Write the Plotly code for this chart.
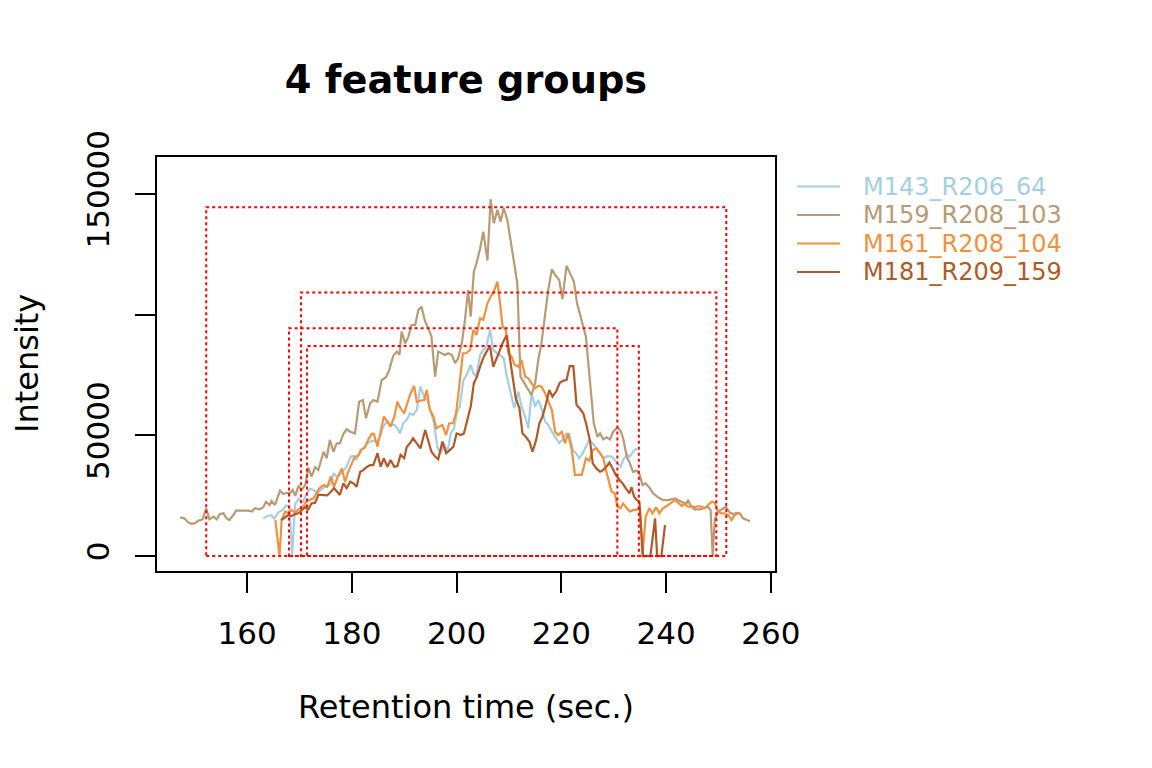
import plotly.graph_objects as go

# ---------------- data ----------------
t_m143 = [163.1,163.8,164.6,165.2,166.0,166.7,167.5,168.1,168.6,169.2,169.9,170.7,171.3,172.0,172.7,173.4,174.1,174.7,175.3,176.0,
          176.5,177.1,177.7,178.4,179.0,179.8,180.3,180.9,181.6,182.2,182.8,183.5,184.1,184.8,185.4,186.0,186.7,187.3,188.1,188.7,
          189.2,189.8,190.5,191.1,191.7,192.4,193.1,193.8,194.4,195.1,195.7,196.3,197.0,197.6,198.2,198.9,199.5,200.1,200.6,201.3,
          201.9,202.7,203.2,203.7,204.5,205.1,205.7,206.4,207.0,207.7,208.3,209.0,209.6,210.2,211.0,211.8,212.4,213.1,213.7,214.3,
          215.0,215.6,216.2,216.9,217.5,218.2,218.8,219.6,220.2,220.9,221.5,222.2,222.8,223.4,224.1,224.7,225.3,226.0,226.7,227.4,
          228.1,228.8,229.6,230.2,230.7,231.3,231.8,232.5,233.1,233.7,234.4]
i_m143 = [15500,16500,16900,15500,18200,18900,21000,20300,0,21700,23700,22400,25800,27900,27400,26000,27400,28500,28700,30100,
          34300,32900,33600,35600,37000,41200,41400,39800,43900,44600,46400,47400,47800,47400,49400,53600,55700,54300,54300,52900,
          50800,55000,56400,59100,58400,60500,70200,66000,64600,59800,55000,45300,42600,46700,42600,50800,52900,59800,61900,72900,
          75000,79200,75700,74300,83300,85400,86700,93700,85400,84000,83300,81900,74300,68800,61200,68100,61900,57700,52900,67400,
          61900,64600,61200,55700,54300,51500,49400,46700,48100,50800,50600,43900,42600,40500,42600,45300,48100,46700,44600,42600,
          40500,41400,41200,39800,38400,37000,39800,41900,41200,43200,44600]

t_m159 = [147.2,148.0,148.6,149.3,149.9,150.7,151.5,152.2,152.8,153.6,154.2,154.8,155.5,156.1,156.6,157.4,157.9,159.0,160.3,160.9,
          161.5,162.4,163.1,163.6,164.3,164.7,165.3,166.3,166.9,167.6,168.2,168.7,169.2,169.8,170.4,171.1,171.7,172.3,173.0,173.6,
          174.6,175.2,175.8,176.5,177.1,177.7,178.4,179.0,179.7,180.6,181.4,182.1,182.7,183.5,184.1,184.9,185.7,186.5,187.1,187.9,
          188.6,189.1,189.5,190.2,190.8,191.4,192.1,192.7,193.3,194.0,194.6,195.2,195.9,196.5,197.2,197.8,198.4,199.1,199.7,200.3,
          201.0,201.6,202.2,202.7,203.3,203.9,204.5,205.1,205.9,206.5,207.1,207.8,208.4,209.0,209.7,210.8,211.6,212.2,212.9,213.7,
          214.3,215.0,215.6,216.2,216.9,217.5,218.2,218.8,219.6,220.2,221.0,221.6,222.4,223.0,223.9,224.7,225.1,225.8,226.2,226.9,
          227.4,228.0,228.6,229.3,229.9,230.7,231.3,231.8,232.5,233.1,233.7,234.4,235.0,235.5,236.1,236.9,237.5,238.5,239.4,240.4,
          241.0,241.7,242.3,243.3,243.9,244.2,244.7,245.5,246.5,247.1,248.0,248.5,248.9,249.3,249.9,250.6,251.4,252.2,252.8,253.5,
          254.1,254.7,255.4,256.0]
i_m159 = [16000,15600,14200,13300,13500,14600,15200,19800,15200,16300,15200,17400,17700,15600,14900,17000,18800,18800,18800,18400,
          19800,19300,20200,22500,21100,22800,21100,27100,25700,26200,26000,27400,24900,29100,27400,29400,36600,32900,36800,35600,
          43200,40500,48100,43200,46700,46700,50600,52500,51500,50800,63900,64600,57100,63300,64600,63900,72900,74000,76800,82900,
          84700,83300,93000,88100,90900,95700,95700,101900,103300,97100,94400,90900,74300,84700,84000,83300,84000,83300,79900,81900,
          88100,97800,110200,99200,117800,122000,127500,134400,122400,147800,137900,143400,138500,144100,139200,123000,113000,74300,71600,68800,
          66700,71600,81200,88100,99200,110200,118800,116500,114400,106400,120200,117200,113700,104700,97800,90900,81200,63300,55000,49400,
          50800,48300,49200,48300,51500,53300,51900,48800,41200,38400,34900,35400,33600,29400,30100,28100,26000,24300,23200,23200,
          23500,23900,23200,22100,21800,23200,20700,19300,19300,19800,20400,19100,0,14900,18400,19300,20400,17900,17400,17900,
          17700,15600,14900,14400]

t_m161 = [165.4,166.2,166.6,167.3,167.9,168.5,169.2,169.8,170.6,171.3,171.9,172.7,173.6,174.1,174.7,175.3,176.0,176.6,177.2,178.1,
          178.7,179.3,180.0,180.6,181.2,181.9,182.5,183.1,183.8,184.2,184.9,185.5,186.1,186.8,187.4,188.1,188.7,189.3,190.0,190.6,
          191.1,191.9,192.4,193.1,193.8,194.3,194.9,195.6,196.1,196.7,197.3,198.0,198.6,199.3,199.9,200.5,201.2,201.8,202.6,203.2,
          203.8,204.5,205.1,205.9,206.5,207.1,207.8,208.3,208.8,209.4,209.9,210.5,211.1,211.8,212.4,213.1,213.7,214.3,215.0,215.6,
          216.2,216.9,217.5,218.2,218.8,219.4,220.1,220.7,221.3,222.0,222.6,223.2,223.9,224.7,225.3,226.0,226.7,227.4,228.0,228.6,
          229.6,230.2,230.7,231.3,231.8,232.5,233.1,233.7,234.4,235.0,235.5,236.1,236.8,237.4,238.1,238.7,239.4,240.1,240.9,241.7,
          242.3,243.0,243.6,244.2,244.9,245.5,246.1,246.8,247.4,248.0,248.7,249.3,249.9,250.6,251.2,251.9,252.5,253.1,253.8]
i_m161 = [14900,0,14900,18400,17700,19100,17900,19300,20200,22500,23200,23900,27400,28700,29400,28700,32900,28700,32200,36300,
          30800,34900,38400,41200,41400,44200,45000,48100,50600,50600,45300,52200,57700,55700,53600,57700,63900,61200,59100,63300,
          66700,70500,63800,64400,64600,68800,60500,57700,52900,53600,54300,50100,55000,55000,59100,70200,84000,84000,85400,93700,
          91600,98500,97800,104700,107500,109500,113700,104700,95000,93700,84000,82600,79200,78400,81200,74300,73600,71600,69500,70500,
          70200,67400,63900,60500,51500,50100,51500,46700,50800,43900,33600,33600,33600,40500,39500,43900,44600,42600,40500,35000,
          26600,26000,20400,19800,21800,19800,18400,19100,19100,20400,0,16300,19800,17700,20200,17700,19800,20700,21800,23200,
          22100,20700,21500,20400,20700,20200,20700,20400,19800,21100,22500,22100,18400,17700,17700,17000,14900,17000,17700]

t_m181 = [166.5,167.3,167.9,168.5,169.2,169.8,170.4,171.1,171.7,172.3,173.0,173.6,174.1,174.7,175.3,176.0,176.6,177.2,177.7,178.4,
          179.0,179.7,180.3,180.9,181.6,182.2,182.8,183.5,184.1,184.9,185.5,186.1,186.8,187.4,188.1,188.7,189.3,190.0,190.5,191.1,
          191.7,192.4,193.1,194.0,194.6,195.2,195.9,196.5,197.3,198.0,198.7,199.4,200.0,200.8,201.4,202.0,202.7,203.3,203.9,204.6,
          205.2,205.9,206.4,207.0,207.7,208.3,208.9,209.6,210.1,210.7,211.3,212.0,212.6,213.2,213.9,214.5,215.2,215.8,216.4,217.1,
          217.7,218.3,219.0,219.7,220.4,221.0,221.6,222.3,222.9,223.5,224.2,224.8,225.5,226.0,226.7,227.4,228.0,228.6,229.2,229.8,
          230.4,231.1,231.7,232.3,233.0,233.4,233.9,234.4,234.9,235.3,235.6,236.3,237.0,237.9,238.3,239.1,239.8]
i_m181 = [14900,16300,17000,16600,17400,17700,18800,20200,19300,21800,22100,25300,25300,25300,25100,26600,28100,26600,25300,30100,
          28100,30800,30100,28700,34900,35600,36800,37700,37700,42600,37000,40500,37000,39800,37000,37300,41900,40500,45300,46700,
          48800,46700,44600,52200,48100,43200,41200,40100,47400,42600,43900,45300,50800,50100,50800,56400,61900,71600,74300,79200,
          82600,85400,86700,78400,81900,85400,88800,91500,83300,74000,65400,61200,50800,49400,47400,43200,48100,55000,57700,63300,
          68800,66000,68100,71800,72700,72900,78700,78700,62600,61200,59100,54300,47400,38400,36300,34900,35600,37000,38700,36300,
          33600,31500,30100,28100,26000,28500,24600,23200,22500,9400,0,0,0,15600,0,0,12800]

series_names = ["M143_R206_64", "M159_R208_103", "M161_R208_104", "M181_R209_159"]
series_colors = ["#A6CEE3", "#B89B74", "#F0913F", "#B15928"]

# feature-group boxes (retention min / max, intensity max)
box_rtmin = [152.2, 170.3, 168.0, 171.45]
box_rtmax = [251.5, 249.6, 230.7, 234.8]
box_imax = [144500, 109200, 94400, 87000]

x_ticks = [160, 180, 200, 220, 240, 260]
y_ticks = [0, 50000, 100000, 150000]
y_ticktext = ["0", "50000", "", "150000"]

# ---------------- figure ----------------
FONT = "DejaVu Sans"
W, H = 1152, 768
L, R, T, B = 157, 775, 157, 571   # plot area in pixels
fig = go.Figure()

for k in range(len(box_rtmin)):
    fig.add_shape(type="rect", xref="x", yref="y",
                  x0=box_rtmin[k], x1=box_rtmax[k], y0=0, y1=box_imax[k],
                  line=dict(color="#FF0000", width=2, dash="3px,3px"),
                  fillcolor="rgba(0,0,0,0)", layer="above")

ts = [t_m143, t_m159, t_m161, t_m181]
ivals = [i_m143, i_m159, i_m161, i_m181]
for name, col, t, iv in zip(series_names, series_colors, ts, ivals):
    fig.add_trace(go.Scatter(x=t, y=iv, mode="lines", line=dict(color=col, width=2.2),
                             name=name, showlegend=False))

# legend (drawn outside the plot area, like base R's legend with xpd=TRUE)
def px_x(p):
    return (p - L) / (R - L)

def px_y(p):
    return (B - p) / (B - T)

leg_rows = [186.5, 215, 243.5, 272]
for name, col, yy in zip(series_names, series_colors, leg_rows):
    fig.add_shape(type="line", xref="paper", yref="paper",
                  x0=px_x(797), x1=px_x(840), y0=px_y(yy), y1=px_y(yy),
                  line=dict(color=col, width=2.2))
    fig.add_annotation(text=name, xref="paper", yref="paper", x=px_x(861), y=px_y(yy),
                       xanchor="left", yanchor="middle", showarrow=False,
                       font=dict(family=FONT, size=24, color=col))

fig.update_layout(
    width=W, height=H,
    margin=dict(l=L, r=W - R, t=T, b=H - B),
    paper_bgcolor="white", plot_bgcolor="white",
    font=dict(family=FONT, color="black", size=31),
    title=dict(text="<b>4 feature groups</b>", x=466/W, xref="container", xanchor="center",
               y=1-80/H, yref="container", yanchor="middle",
               font=dict(family=FONT, size=38.3, color="black")),
    showlegend=False,
)

fig.update_xaxes(range=[142.8, 260.8], tickvals=x_ticks, ticks="outside", ticklen=20, tickwidth=1.7,
                 tickcolor="black", showline=True, linecolor="black", linewidth=1.7, mirror=True,
                 showgrid=False, zeroline=False, tickfont=dict(family=FONT, size=31),
                 ticklabelstandoff=14)
fig.update_yaxes(range=[-6200, 165300], tickvals=y_ticks, ticktext=y_ticktext, tickangle=-90,
                 ticks="outside", ticklen=20, tickwidth=1.7, tickcolor="black",
                 showline=True, linecolor="black", linewidth=1.7, mirror=True,
                 showgrid=False, zeroline=False, tickfont=dict(family=FONT, size=31),
                 ticklabelstandoff=14)

fig.add_annotation(text="Retention time (sec.)", xref="paper", yref="paper",
                   x=0.5, y=px_y(707), xanchor="center", yanchor="middle",
                   showarrow=False, font=dict(family=FONT, size=32, color="black"))
fig.add_annotation(text="Intensity", xref="paper", yref="paper",
                   x=px_x(27), y=px_y(364), xanchor="center", yanchor="middle",
                   textangle=-90, showarrow=False, font=dict(family=FONT, size=32, color="black"))

fig.write_html("out.html")
